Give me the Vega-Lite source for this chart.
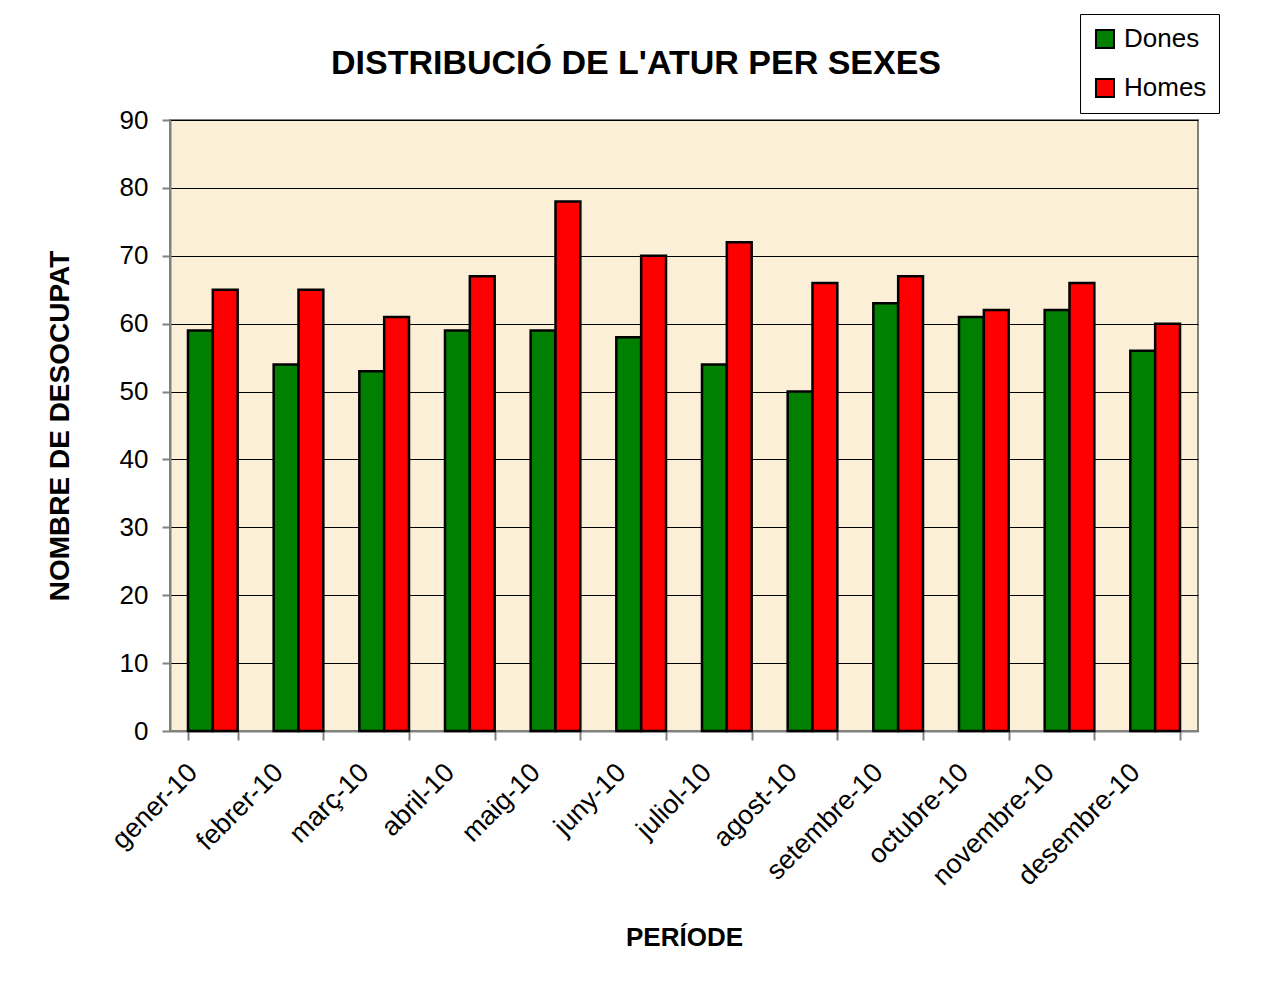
{
  "$schema": "https://vega.github.io/schema/vega-lite/v6.json",
  "autosize": "none",
  "width": 1028,
  "height": 611,
  "padding": {"left": 170, "top": 120, "right": 74, "bottom": 263},
  "background": "white",
  "config": {
    "font": "Liberation Sans",
    "view": {"fill": "#FBEFD7", "stroke": "#808080", "strokeWidth": 2}
  },
  "title": {
    "text": "DISTRIBUCIÓ DE L'ATUR PER SEXES",
    "fontSize": 34,
    "fontWeight": "bold",
    "font": "Liberation Sans",
    "color": "black",
    "anchor": "middle",
    "dx": -48,
    "offset": -67
  },
  "data": {
    "values": [
      {"mes": "gener-10", "sexe": "Dones", "n": 59},
      {"mes": "gener-10", "sexe": "Homes", "n": 65},
      {"mes": "febrer-10", "sexe": "Dones", "n": 54},
      {"mes": "febrer-10", "sexe": "Homes", "n": 65},
      {"mes": "març-10", "sexe": "Dones", "n": 53},
      {"mes": "març-10", "sexe": "Homes", "n": 61},
      {"mes": "abril-10", "sexe": "Dones", "n": 59},
      {"mes": "abril-10", "sexe": "Homes", "n": 67},
      {"mes": "maig-10", "sexe": "Dones", "n": 59},
      {"mes": "maig-10", "sexe": "Homes", "n": 78},
      {"mes": "juny-10", "sexe": "Dones", "n": 58},
      {"mes": "juny-10", "sexe": "Homes", "n": 70},
      {"mes": "juliol-10", "sexe": "Dones", "n": 54},
      {"mes": "juliol-10", "sexe": "Homes", "n": 72},
      {"mes": "agost-10", "sexe": "Dones", "n": 50},
      {"mes": "agost-10", "sexe": "Homes", "n": 66},
      {"mes": "setembre-10", "sexe": "Dones", "n": 63},
      {"mes": "setembre-10", "sexe": "Homes", "n": 67},
      {"mes": "octubre-10", "sexe": "Dones", "n": 61},
      {"mes": "octubre-10", "sexe": "Homes", "n": 62},
      {"mes": "novembre-10", "sexe": "Dones", "n": 62},
      {"mes": "novembre-10", "sexe": "Homes", "n": 66},
      {"mes": "desembre-10", "sexe": "Dones", "n": 56},
      {"mes": "desembre-10", "sexe": "Homes", "n": 60}
    ]
  },
  "mark": {"type": "bar", "stroke": "black", "strokeWidth": 2.5},
  "encoding": {
    "x": {
      "field": "mes",
      "type": "nominal",
      "sort": null,
      "scale": {"paddingInner": 0.42, "paddingOuter": 0.21},
      "axis": {
        "title": "PERÍODE",
        "titleFontSize": 26,
        "titleFontWeight": "bold",
        "titleColor": "black",
        "titlePadding": 35,
        "labelAngle": -45,
        "labelAlign": "right",
        "labelBaseline": "middle",
        "labelFontSize": 27,
        "labelColor": "black",
        "labelPadding": 28,
        "labelOffset": -20,
        "tickBand": "extent",
        "tickColor": "#808080",
        "tickSize": 9,
        "tickWidth": 2,
        "domainColor": "#808080",
        "domainWidth": 2,
        "grid": false
      }
    },
    "xOffset": {"field": "sexe", "type": "nominal", "scale": {"paddingInner": 0, "paddingOuter": 0}},
    "y": {
      "field": "n",
      "type": "quantitative",
      "scale": {"domain": [0, 90], "nice": false},
      "axis": {
        "title": "NOMBRE DE DESOCUPAT",
        "titleFontSize": 28,
        "titleFontWeight": "bold",
        "titleColor": "black",
        "titlePadding": 45,
        "values": [0, 10, 20, 30, 40, 50, 60, 70, 80, 90],
        "labelFontSize": 26,
        "labelColor": "black",
        "labelPadding": 14,
        "tickColor": "#808080",
        "tickSize": 8,
        "tickWidth": 2,
        "domainColor": "#808080",
        "domainWidth": 2,
        "grid": true,
        "gridColor": "black",
        "gridWidth": 1
      }
    },
    "color": {
      "field": "sexe",
      "type": "nominal",
      "scale": {"domain": ["Dones", "Homes"], "range": ["#007F00", "#FF0000"]},
      "legend": {
        "title": null,
        "orient": "none",
        "legendX": 910,
        "legendY": -106,
        "symbolType": "square",
        "symbolSize": 324,
        "symbolStrokeColor": "black",
        "symbolStrokeWidth": 2,
        "labelFontSize": 26,
        "labelColor": "black",
        "labelOffset": 6,
        "rowPadding": 23,
        "padding": 12,
        "strokeColor": "black",
        "fillColor": "white"
      }
    }
  }
}
